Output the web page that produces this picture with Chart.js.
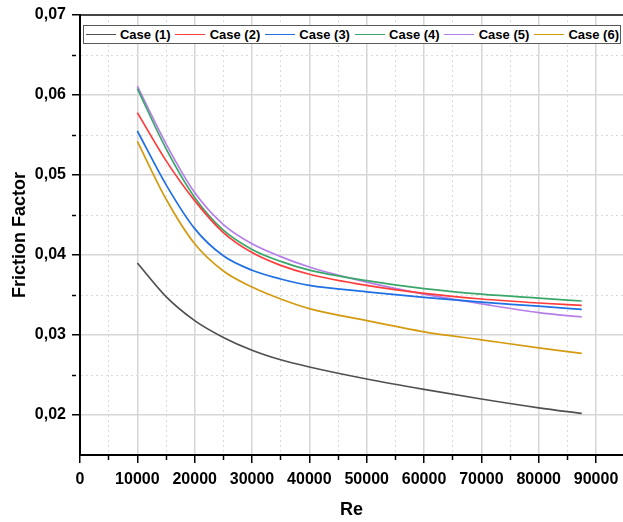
<!DOCTYPE html>
<html>
<head>
<meta charset="utf-8">
<title>Friction Factor - Re</title>
<script src="https://cdn.jsdelivr.net/npm/chart.js@4.4.1/dist/chart.umd.min.js"></script>
<style>
  html, body { margin: 0; padding: 0; background: #fff; overflow: hidden; }
  #wrap { position: relative; width: 623px; height: 522px; }
  #legend {
    position: absolute; left: 83px; top: 25px; width: 536px; height: 17px;
    border: 1px solid #5a5a5a; background: #fff;
    display: flex; align-items: center;
    font: bold 13px "Liberation Sans", Arial, sans-serif; color: #000;
  }
  #legend .item { display: flex; align-items: center; width: 89.7px; flex: none; white-space: nowrap; }
  #legend .item:last-child { width: auto; }
  #legend .swatch { display: inline-block; width: 30px; height: 0; border-top: 1.5px solid; margin: 0 4.4px 0 1.6px; }
</style>
</head>
<body>
<div id="wrap">
  <canvas id="ffChart" width="623" height="522"></canvas>
  <div id="legend"></div>
</div>
<script>
// Friction factor against Reynolds number, six cases
const reValues = [10000, 15000, 20000, 25000, 30000, 35000, 40000, 50000, 60000, 70000, 80000, 87500];
const case1 = [0.0390, 0.0348, 0.0318, 0.0297, 0.0281, 0.0269, 0.0260, 0.0245, 0.0232, 0.0220, 0.0209, 0.0202];
const case2 = [0.0578, 0.0518, 0.0468, 0.0428, 0.0403, 0.0387, 0.0376, 0.0362, 0.0352, 0.0345, 0.0340, 0.0337];
const case3 = [0.0555, 0.0488, 0.0433, 0.0399, 0.0381, 0.0370, 0.0362, 0.0354, 0.0347, 0.0341, 0.0336, 0.0332];
const case4 = [0.0608, 0.0533, 0.0472, 0.0431, 0.0407, 0.0392, 0.0381, 0.0368, 0.0358, 0.0351, 0.0346, 0.03425];
const case5 = [0.0611, 0.0539, 0.0478, 0.0438, 0.0414, 0.0398, 0.0385, 0.0366, 0.0351, 0.0339, 0.0328, 0.03225];
const case6 = [0.0542, 0.0470, 0.0414, 0.0380, 0.0360, 0.0345, 0.0333, 0.0318, 0.0304, 0.0294, 0.0284, 0.0277];

const caseLabels = ['Case (1)', 'Case (2)', 'Case (3)', 'Case (4)', 'Case (5)', 'Case (6)'];
const caseColors = ['#505050', '#ff3c3c', '#1f6fe5', '#3aa76a', '#b57ee8', '#d49a10'];

// axis ticks: labelled every 10000 / 0.01, minor in between
const reTicks = [0, 5000, 10000, 15000, 20000, 25000, 30000, 35000, 40000, 45000, 50000, 55000, 60000, 65000, 70000, 75000, 80000, 85000, 90000];
const ffTicks = [0.02, 0.025, 0.03, 0.035, 0.04, 0.045, 0.05, 0.055, 0.06, 0.065, 0.07];
const reMin = 0, reMax = 94700;
const ffMin = 0.015, ffMax = 0.07;

const tickFont = { family: '"Liberation Sans", Arial, sans-serif', size: 16, weight: 'bold' };
const titleFont = { family: '"Liberation Sans", Arial, sans-serif', size: 18, weight: 'bold', lineHeight: 1.2 };

const isMajorRe = v => Math.round(v) % 10000 === 0;
const isMajorFf = v => Math.abs(v * 100 - Math.round(v * 100)) < 1e-6;

function makeDataset(label, values, color) {
  return {
    label: label,
    data: reValues.map((re, i) => ({ x: re, y: values[i] })),
    borderColor: color,
    backgroundColor: color,
    borderWidth: 1.7,
    pointRadius: 0,
    fill: false,
    cubicInterpolationMode: 'monotone'
  };
}

const series = [case1, case2, case3, case4, case5, case6];

function gridStyle(isMajor) {
  return {
    color: ctx => (ctx.tick && isMajor(ctx.tick.value)) ? '#d6d6d6' : '#dadada',
    lineWidth: ctx => (ctx.tick && isMajor(ctx.tick.value)) ? 1.5 : 1,
    tickLength: 8,
    tickColor: '#000',
    tickWidth: 1.5,
    tickBorderDash: ctx => (ctx.tick && !isMajor(ctx.tick.value)) ? [4, 30] : []
  };
}

const chart = new Chart(document.getElementById('ffChart'), {
  type: 'line',
  data: { datasets: series.map((s, i) => makeDataset(caseLabels[i], s, caseColors[i])) },
  options: {
    responsive: false,
    animation: false,
    devicePixelRatio: 1,
    layout: { padding: { top: 15, right: 0, bottom: 0, left: 0 } },
    plugins: { legend: { display: false }, tooltip: { enabled: false } },
    scales: {
      x: {
        type: 'linear', position: 'bottom', min: reMin, max: reMax,
        afterBuildTicks: s => { s.ticks = reTicks.map(v => ({ value: v })); },
        afterFit: s => { s.height = 67; s.paddingLeft = 0; s.paddingRight = 0; },
        ticks: {
          autoSkip: false, maxRotation: 0, padding: 7, color: '#000', font: tickFont,
          callback: v => isMajorRe(v) ? String(v) : ''
        },
        grid: gridStyle(isMajorRe),
        border: { color: '#000', width: 2, dash: ctx => (ctx.tick && !isMajorRe(ctx.tick.value)) ? [2, 3] : [] },
        title: { display: true, text: 'Re', color: '#000', font: titleFont, padding: { top: 0, bottom: 1 } }
      },
      xTop: {
        type: 'linear', position: 'top', min: reMin, max: reMax,
        ticks: { display: false },
        grid: { display: false, drawTicks: false },
        border: { display: true, color: '#444', width: 2 },
        afterFit: s => { s.height = 0; }
      },
      y: {
        type: 'linear', position: 'left', min: ffMin, max: ffMax,
        afterBuildTicks: s => { s.ticks = ffTicks.map(v => ({ value: v })); },
        afterFit: s => { s.width = 80; s.paddingTop = 0; s.paddingBottom = 0; },
        ticks: {
          autoSkip: false, padding: 6, color: '#000', font: tickFont,
          callback: v => isMajorFf(v) ? v.toFixed(2).replace('.', ',') : ''
        },
        grid: gridStyle(isMajorFf),
        border: { color: '#000', width: 2, dash: ctx => (ctx.tick && !isMajorFf(ctx.tick.value)) ? [2, 3] : [] },
        title: { display: true, text: 'Friction Factor', color: '#000', font: titleFont, padding: { top: 9, bottom: 0 } }
      }
    }
  }
});

// legend row inside the plot, built from the datasets
const legendBox = document.getElementById('legend');
legendBox.innerHTML = chart.data.datasets.map(ds =>
  `<div class="item"><span class="swatch" style="border-top-color:${ds.borderColor}"></span>${ds.label}</div>`
).join('');
</script>
</body>
</html>
